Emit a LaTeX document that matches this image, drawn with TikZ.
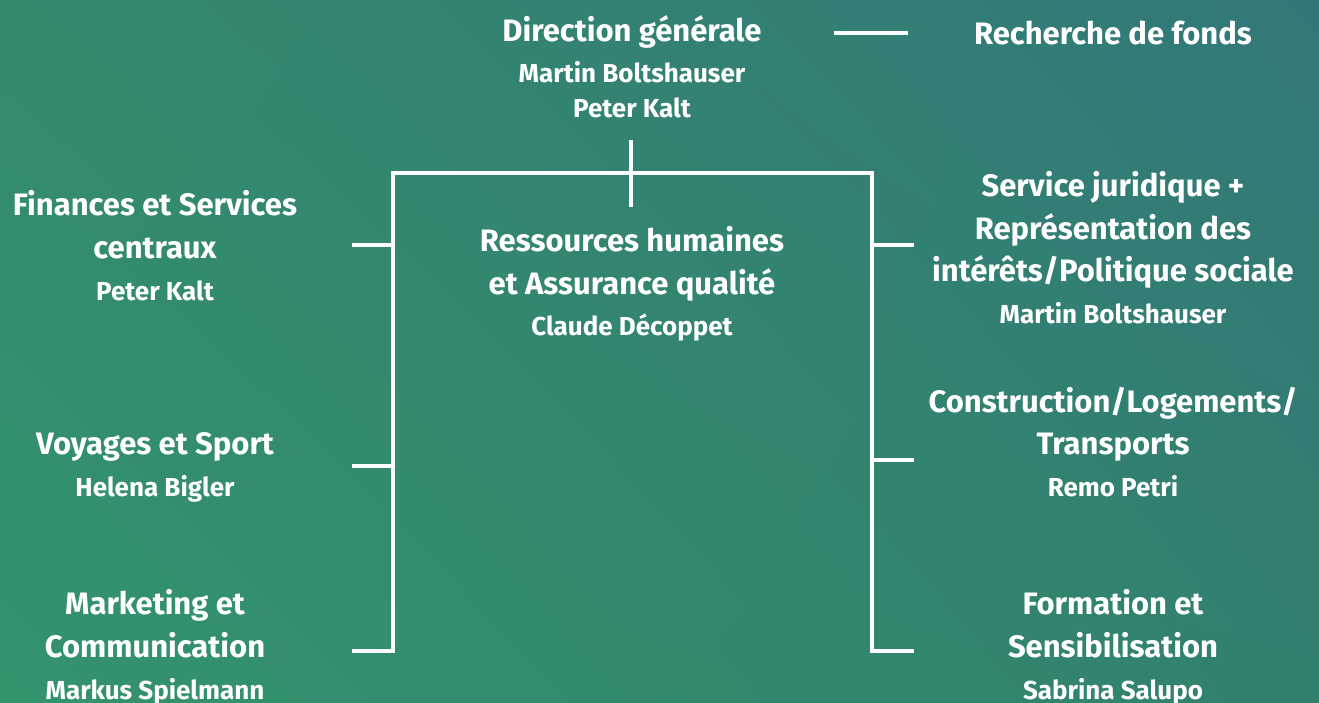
\documentclass[tikz,border=0pt]{standalone}
\usepackage{fontspec}
\usetikzlibrary{shadings}
\setmainfont{Fira Sans}
\definecolor{cUL}{HTML}{34896F}
\definecolor{cUR}{HTML}{327878}
\definecolor{cLL}{HTML}{33946C}
\definecolor{cLR}{HTML}{328070}
\begin{document}
\begin{tikzpicture}[x=1pt,y=-1pt,
  head/.style={anchor=base,text=white,inner sep=0pt,font=\fontsize{31}{34}\selectfont\bfseries},
  pers/.style={anchor=base,text=white,inner sep=0pt,font=\fontsize{26}{30}\selectfont\bfseries},
  conn/.style={draw=white,line width=4pt}]
\shade[upper left=cUL,upper right=cUR,lower left=cLL,lower right=cLR] (0,0) rectangle (1319,702);
\useasboundingbox (0,0) rectangle (1319,702);
% top
\node[head] (dg) at (632,41) {Direction générale};
\node[pers] (dg2) at (632,82) {Martin Boltshauser};
\node[pers] (dg3) at (632,117) {Peter Kalt};
\node[head] (rf) at (1113,44) {Recherche de fonds};
% left
\node[head] (fi1) at (155,215) {Finances et Services};
\node[head] (fi2) at (155,258) {centraux};
\node[pers] (fi3) at (155,300) {Peter Kalt};
\node[head] (vo1) at (155,454) {Voyages et Sport};
\node[pers] (vo2) at (155,496) {Helena Bigler};
\node[head] (ma1) at (155,614) {Marketing et};
\node[head] (ma2) at (155,657) {Communication};
\node[pers] (ma3) at (155,699) {Markus Spielmann};
% centre
\node[head] (rh1) at (632,251) {Ressources humaines};
\node[head] (rh2) at (632,294) {et Assurance qualité};
\node[pers] (rh3) at (632,335) {Claude Décoppet};
% right
\node[head] (sj1) at (1113,196) {Service juridique +};
\node[head] (sj2) at (1113,239) {Représentation des};
\node[head] (sj3) at (1113,281) {intérêts/Politique sociale};
\node[pers] (sj4) at (1113,323) {Martin Boltshauser};
\node[head] (co1) at (1113,412) {Construction/Logements/};
\node[head] (co2) at (1113,454) {Transports};
\node[pers] (co3) at (1113,496) {Remo Petri};
\node[head] (fo1) at (1113,614) {Formation et};
\node[head] (fo2) at (1113,657) {Sensibilisation};
\node[pers] (fo3) at (1113,699) {Sabrina Salupo};
% connector points
\coordinate (t0) at (631,140);
\coordinate (t1) at (631,207);
\coordinate (hl) at (393,173);
\coordinate (hr) at (872,173);
\coordinate (bl) at (393,651);
\coordinate (br) at (872,651);
\coordinate (l1) at (352,245);
\coordinate (l2) at (352,466);
\coordinate (l3) at (352,651);
\coordinate (r1) at (914,245);
\coordinate (r2) at (914,460);
\coordinate (r3) at (914,651);
\coordinate (f0) at (834,33);
\coordinate (f1) at (908,33);
\draw[conn] (t0) -- (t1);
\draw[conn] (l3) -- (bl) -- (hl) -- (hr) -- (br) -- (r3);
\draw[conn] (l1) -- (l1 -| hl);
\draw[conn] (l2) -- (l2 -| hl);
\draw[conn] (r1) -- (r1 -| hr);
\draw[conn] (r2) -- (r2 -| hr);
\draw[conn] (f0) -- (f1);
\end{tikzpicture}
\end{document}
